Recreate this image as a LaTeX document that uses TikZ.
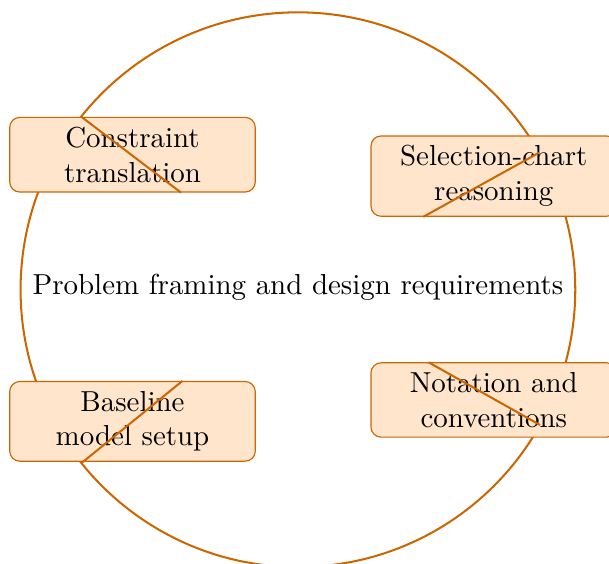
\documentclass[tikz,border=0pt]{standalone}
\usepackage{amssymb,amsmath}
\usepackage{tikz}

\colorlet{ringcol}{orange!80!black}
\tikzset{
  topicbox/.style={draw=ringcol, fill=orange!20, thin, rounded corners=3.5pt,
    text width=2.75cm, align=center, inner sep=3.33pt},
  ring/.style={ringcol, line width=0.7pt}
}

\begin{document}
\begin{tikzpicture}
\useasboundingbox (-3.62,-3.33) rectangle (3.78,3.52);

\draw[ring] (0,0) circle (3.37);

\node (goal) at (0,0.03) {Problem framing and design requirements};

\node[topicbox] (cons) at (-2.01,1.64) {Constraint translation};
\node[topicbox] (sel) at (2.38,1.38) {Selection-chart reasoning};
\node[topicbox] (base) at (-2.01,-1.60) {Baseline model setup};
\node[topicbox] (nota) at (2.38,-1.34) {Notation and conventions};

\coordinate (p1) at (141.4:3.37);
\coordinate (p2) at (29.6:3.37);
\coordinate (p3) at (-141.3:3.37);
\coordinate (p4) at (-29.2:3.37);

\draw[ring] (p1) -- (cons.-38);
\draw[ring] (p2) -- (sel.210);
\draw[ring] (p3) -- (base.39);
\draw[ring] (p4) -- (nota.150);
\end{tikzpicture}
\end{document}
